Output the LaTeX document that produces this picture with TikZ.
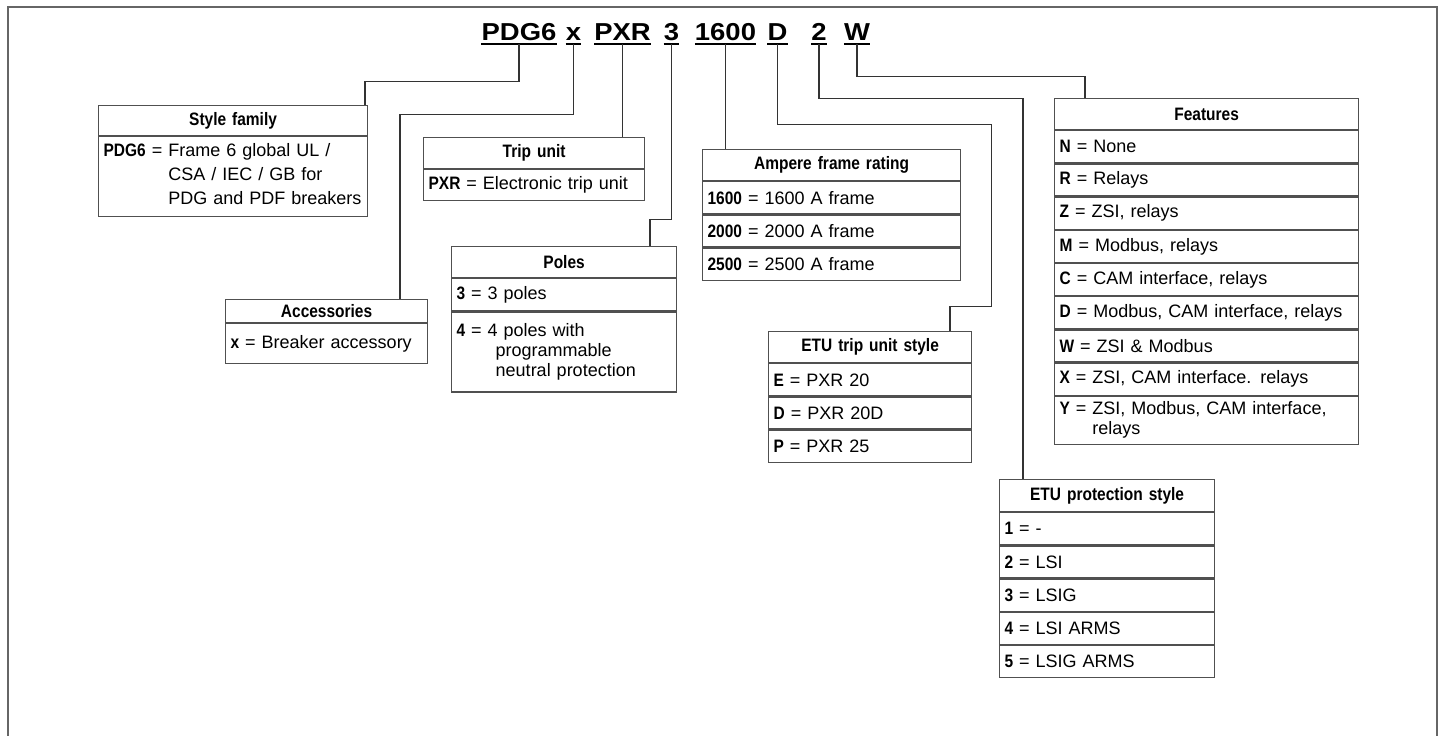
\documentclass[tikz,border=0pt]{standalone}
\usepackage{fontspec}
\setmainfont{Liberation Sans}[BoldFeatures={FakeStretch=0.86}]
\newfontfamily\codefont{Liberation Sans}[FakeStretch=1.12]
\usetikzlibrary{positioning}
\definecolor{Frame}{HTML}{666666}
\definecolor{Rule}{HTML}{505050}
\definecolor{Wire}{HTML}{333333}
\newcommand{\kv}[2]{\textbf{#1} = #2}
\newcommand{\wrapped}[1]{\begin{tabular}[t]{@{}l@{}}#1\end{tabular}}

\begin{document}
\fontsize{18}{20}\selectfont
\begin{tikzpicture}[
        x=1pt, y=-1pt,
        code/.style={font=\codefont\bfseries\fontsize{24.5}{24}\selectfont, inner xsep=0pt,
          inner ysep=3.5pt, text depth=0pt, anchor=base},
        uline/.style={draw=black, line width=2pt},
        hdr/.style={draw=Rule, line width=1.2pt, font=\bfseries, align=center, text width=#1,
          minimum height=31pt, inner xsep=5pt, inner ysep=2pt, anchor=north west},
        row/.style={draw=Rule, line width=1.2pt, align=left, text width=#1,
          minimum height=32pt, inner xsep=5pt, inner ysep=2pt},
        wire/.style={draw=Wire, line width=1.5pt}
      ]
        \useasboundingbox (0,0) rectangle (1441,736);
        \draw[Frame, line width=2pt] (7.5,736) -- (7.5,6.5) -- (1437,6.5) -- (1437,736);

        % catalogue number
        \node[code] (c1) at (519,40) {PDG6};
        \node[code] (c2) at (573.5,40) {x};
        \node[code] (c3) at (622.5,40) {PXR};
        \node[code] (c4) at (671.5,40) {3};
        \node[code] (c5) at (725.5,40) {1600};
        \node[code] (c6) at (777.5,40) {D};
        \node[code] (c7) at (819,40) {2};
        \node[code] (c8) at (857,40) {W};
        \draw[uline] (c1.south west) -- (c1.south east);
        \draw[uline] (c2.south west) -- (c2.south east);
        \draw[uline] (c3.south west) -- (c3.south east);
        \draw[uline] (c4.south west) -- (c4.south east);
        \draw[uline] (c5.south west) -- (c5.south east);
        \draw[uline] (c6.south west) -- (c6.south east);
        \draw[uline] (c7.south west) -- (c7.south east);
        \draw[uline] (c8.south west) -- (c8.south east);

        % style family
        \node[hdr=259pt, minimum height=30pt] (sfam) at (98,105) {Style family};
        \node[row=259pt, minimum height=80pt, below=0pt of sfam] (sfam1)
          {\kv{PDG6}{\wrapped{Frame 6 global UL /\\[4pt] CSA / IEC / GB for\\[4pt] PDG and PDF breakers}}};

        % accessories
        \node[hdr=192pt, minimum height=23pt] (acc) at (225,299) {Accessories};
        \node[row=192pt, minimum height=40pt, below=0pt of acc] (acc1) {\kv{x}{Breaker accessory}};

        % trip unit
        \node[hdr=211pt] (trip) at (423,137) {Trip unit};
        \node[row=211pt, minimum height=31pt, below=0pt of trip] (trip1) {\kv{PXR}{Electronic trip unit}};

        % poles
        \node[hdr=215pt] (pole) at (451,246) {Poles};
        \node[row=215pt, below=0pt of pole] (pole1) {\kv{3}{3 poles}};
        \node[row=215pt, minimum height=80pt, below=0pt of pole1] (pole2)
          {\kv{4}{\wrapped{4 poles with\\ \hspace{8pt}programmable\\ \hspace{8pt}neutral protection}}};

        % ampere frame rating
        \node[hdr=248pt] (amp) at (702,149) {Ampere frame rating};
        \node[row=248pt, below=0pt of amp] (amp1) {\kv{1600}{1600 A frame}};
        \node[row=248pt, below=0pt of amp1] (amp2) {\kv{2000}{2000 A frame}};
        \node[row=248pt, below=0pt of amp2] (amp3) {\kv{2500}{2500 A frame}};

        % ETU trip unit style
        \node[hdr=193pt] (etu) at (768,331) {ETU trip unit style};
        \node[row=193pt, below=0pt of etu] (etu1) {\kv{E}{PXR 20}};
        \node[row=193pt, below=0pt of etu1] (etu2) {\kv{D}{PXR 20D}};
        \node[row=193pt, below=0pt of etu2] (etu3) {\kv{P}{PXR 25}};

        % ETU protection style
        \node[hdr=205pt, minimum height=32pt] (prot) at (999,479) {ETU protection style};
        \node[row=205pt, below=0pt of prot] (prot1) {\kv{1}{-}};
        \node[row=205pt, below=0pt of prot1] (prot2) {\kv{2}{LSI}};
        \node[row=205pt, below=0pt of prot2] (prot3) {\kv{3}{LSIG}};
        \node[row=205pt, below=0pt of prot3] (prot4) {\kv{4}{LSI ARMS}};
        \node[row=205pt, below=0pt of prot4] (prot5) {\kv{5}{LSIG ARMS}};

        % features
        \node[hdr=294pt] (feat) at (1054,98) {Features};
        \node[row=294pt, below=0pt of feat] (feat1) {\kv{N}{None}};
        \node[row=294pt, below=0pt of feat1] (feat2) {\kv{R}{Relays}};
        \node[row=294pt, below=0pt of feat2] (feat3) {\kv{Z}{ZSI, relays}};
        \node[row=294pt, below=0pt of feat3] (feat4) {\kv{M}{Modbus, relays}};
        \node[row=294pt, below=0pt of feat4] (feat5) {\kv{C}{CAM interface, relays}};
        \node[row=294pt, below=0pt of feat5] (feat6) {\kv{D}{Modbus, CAM interface, relays}};
        \node[row=294pt, below=0pt of feat6] (feat7) {\kv{W}{ZSI \& Modbus}};
        \node[row=294pt, below=0pt of feat7] (feat8) {\kv{X}{ZSI, CAM interface. relays}};
        \node[row=294pt, minimum height=48pt, below=0pt of feat8] (feat9)
          {\kv{Y}{\wrapped{ZSI, Modbus, CAM interface,\\ relays}}};

        % leader lines
        \draw[wire] (c1.south) -- ++(0,38) -| ([xshift=-3pt]sfam.north east);
        \draw[wire] (c2.south) -- ++(0,71) -| ([xshift=-28pt]acc.north east);
        \draw[wire] (c3.south) -- (c3.south |- trip.north);
        \draw[wire] (c4.south) -- ++(0,176) -| ([xshift=-27pt]pole.north east);
        \draw[wire] (c5.south) -- (c5.south |- amp.north);
        \draw[wire] (c6.south) -- ++(0,81) -- ++(214,0) -- ++(0,182) -| ([xshift=-22pt]etu.north east);
        \draw[wire] (c7.south) -- ++(0,55) -| ([xshift=24pt]prot.north west);
        \draw[wire] (c8.south) -- ++(0,33) -| ([xshift=31pt]feat.north west);
      \end{tikzpicture}
\end{document}
